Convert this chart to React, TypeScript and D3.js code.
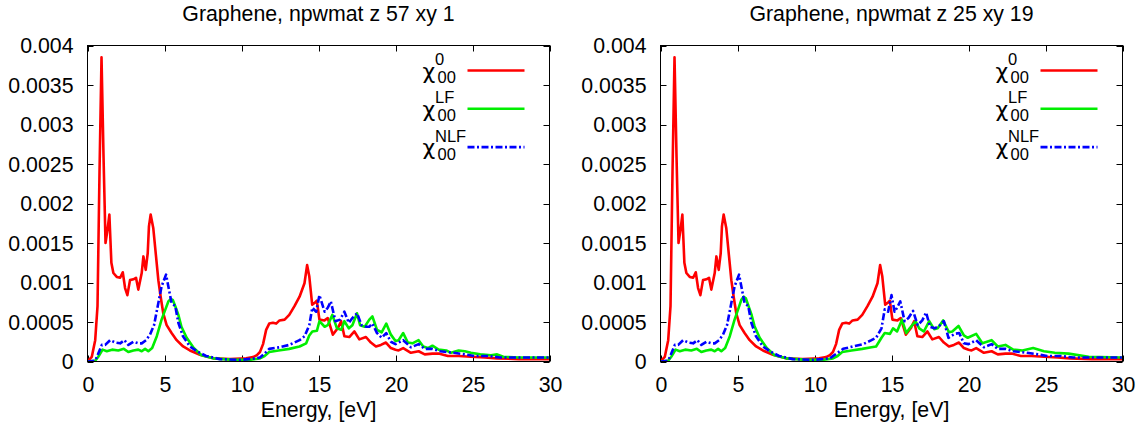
import React from "react";
import * as d3 from "d3";

// ---- data ----
const xTicks = [0, 5, 10, 15, 20, 25, 30];
const yTicks = [0, 0.0005, 0.001, 0.0015, 0.002, 0.0025, 0.003, 0.0035, 0.004];
const yTickLabels = ["0", "0.0005", "0.001", "0.0015", "0.002", "0.0025", "0.003", "0.0035", "0.004"];
const titles = ["Graphene, npwmat z 57 xy 1", "Graphene, npwmat z 25 xy 19"];
const xLabel = "Energy, [eV]";
const legendSup = ["0", "LF", "NLF"];
const legendSub = "00";

type P = [number, number];

const chi0: P[] = [
  [0, 0], [0.28, 0.00006], [0.5, 0.00027], [0.65, 0.0007], [0.78, 0.0024], [0.91, 0.00385],
  [1.04, 0.0026], [1.17, 0.0015], [1.3, 0.00167], [1.42, 0.00186], [1.55, 0.00125], [1.68, 0.00112],
  [1.9, 0.00107], [2.12, 0.00106], [2.29, 0.00113], [2.44, 0.00093], [2.59, 0.00084], [2.76, 0.00103],
  [2.98, 0.00104], [3.15, 0.00106], [3.3, 0.00091], [3.52, 0.00112], [3.63, 0.00133], [3.78, 0.00116],
  [3.91, 0.00137], [3.99, 0.00171], [4.1, 0.00186], [4.27, 0.00169], [4.45, 0.00133], [4.6, 0.00103],
  [4.75, 0.00082], [4.92, 0.00061], [5.14, 0.00046], [5.46, 0.00036], [5.79, 0.00027], [6.21, 0.00019],
  [6.65, 0.00014], [7.3, 0.000085], [8.16, 0.00004], [9.24, 0.00003], [10.3, 0.00004], [10.75, 0.000055],
  [11.0, 0.00008], [11.2, 0.00012], [11.4, 0.00022], [11.6, 0.0004], [11.8, 0.00048], [12.04, 0.00049],
  [12.25, 0.00048], [12.47, 0.00052], [12.8, 0.00053], [13.1, 0.00059], [13.44, 0.0007], [13.77, 0.00082],
  [14.09, 0.00099], [14.26, 0.00122], [14.4, 0.00108], [14.59, 0.00072], [14.74, 0.00074], [14.89, 0.00077],
  [15.06, 0.00053], [15.39, 0.00052], [15.6, 0.00055], [15.93, 0.00034], [16.25, 0.00042], [16.47, 0.00051],
  [16.68, 0.00032], [17.0, 0.00031], [17.33, 0.00038], [17.65, 0.00028], [18.08, 0.00031], [18.4, 0.00024],
  [18.73, 0.00019], [19.05, 0.00021], [19.38, 0.00024], [19.7, 0.00017], [20.0, 0.00015], [20.2, 0.00014],
  [20.5, 0.00017], [21.0, 0.00011], [21.5, 0.00013], [21.9, 0.00009], [22.4, 0.0001], [22.8, 0.0001],
  [23.4, 0.00007], [24.1, 0.00007], [24.9, 0.00006], [25.8, 0.00005], [26.6, 0.00004], [28, 0.00003], [30, 0.00003],
];

const chiLF_a: P[] = [
  [0, 0], [0.5, 0.00001], [0.7, 0.00006], [0.98, 0.00015], [1.25, 0.00013], [1.6, 0.00015], [2.0, 0.00014],
  [2.36, 0.00016], [2.65, 0.00012], [2.98, 0.00014], [3.3, 0.00015], [3.52, 0.00013], [3.74, 0.00016],
  [3.95, 0.00013], [4.2, 0.00017], [4.5, 0.00032], [4.81, 0.00053], [5.04, 0.00065], [5.25, 0.00076],
  [5.4, 0.00079], [5.54, 0.00078], [5.7, 0.0007], [5.9, 0.00059], [6.1, 0.00044], [6.44, 0.0003],
  [6.9, 0.00017], [7.4, 0.00008], [8.16, 0.00004], [9.5, 0.00002], [10.5, 0.00002], [11.2, 0.00004],
  [11.5, 0.00007], [11.8, 0.00012], [12.4, 0.00014], [13.1, 0.00016], [13.77, 0.00019], [14.2, 0.00023],
  [14.4, 0.00033], [14.6, 0.00038], [14.9, 0.00039], [15.06, 0.00051], [15.4, 0.00044], [15.6, 0.00046],
  [15.9, 0.00059], [16.2, 0.00042], [16.47, 0.0004], [16.68, 0.00051], [16.97, 0.00042], [17.2, 0.00046],
  [17.5, 0.00061], [17.7, 0.00046], [18.0, 0.00044], [18.3, 0.00053], [18.5, 0.00057], [18.8, 0.0004],
  [19.1, 0.00037], [19.4, 0.00048], [19.7, 0.00034], [20.0, 0.00026], [20.2, 0.00027], [20.5, 0.00036],
  [20.8, 0.00024], [21.1, 0.00023], [21.5, 0.00027], [21.8, 0.00019], [22.1, 0.00017], [22.4, 0.0002],
  [22.8, 0.00015], [23.3, 0.00014], [23.6, 0.00011], [24.1, 0.00014], [24.5, 0.00013], [24.9, 0.00011],
  [25.5, 0.00009], [26.2, 0.00008], [26.6, 0.00009], [27.0, 0.00006], [28.1, 0.00005], [30, 0.00005],
];

const chiNLF_a: P[] = [
  [0, 0], [0.5, 0.00001], [0.7, 0.0001], [0.93, 0.00021], [1.15, 0.00021], [1.47, 0.00027], [1.8, 0.00024],
  [2.12, 0.00023], [2.4, 0.00027], [2.65, 0.00021], [2.98, 0.00025], [3.3, 0.00023], [3.52, 0.00023],
  [3.8, 0.00027], [4.06, 0.00034], [4.32, 0.00046], [4.6, 0.00074], [4.81, 0.00095], [5.1, 0.0011],
  [5.25, 0.00095], [5.46, 0.00074], [5.7, 0.0007], [5.9, 0.00049], [6.2, 0.00032], [6.65, 0.00019],
  [7.1, 0.00013], [7.7, 0.00007], [8.6, 0.00003], [9.9, 0.00002], [10.96, 0.00004], [11.2, 0.00005],
  [11.5, 0.0001], [11.8, 0.00016], [12.47, 0.00018], [13.1, 0.00021], [13.77, 0.00027], [14.1, 0.00032],
  [14.4, 0.00046], [14.6, 0.00068], [14.85, 0.00063], [15.06, 0.00084], [15.4, 0.00063], [15.6, 0.00068],
  [15.8, 0.00076], [16.1, 0.00051], [16.4, 0.00053], [16.68, 0.00063], [16.97, 0.00049], [17.2, 0.00055],
  [17.5, 0.00061], [17.8, 0.00046], [18.1, 0.00044], [18.3, 0.00044], [18.5, 0.00048], [18.8, 0.00036],
  [19.1, 0.0003], [19.4, 0.00036], [19.7, 0.00025], [20.0, 0.00022], [20.5, 0.00027], [21.0, 0.00018],
  [21.5, 0.00022], [21.9, 0.00016], [22.4, 0.00016], [22.9, 0.00013], [23.8, 0.00011], [24.5, 0.00009],
  [25.1, 0.00007], [26.0, 0.00007], [26.8, 0.00005], [30, 0.00005],
];

const chiLF_b: P[] = [
  [0, 0], [0.5, 0.00001], [0.7, 0.00006], [0.98, 0.00015], [1.25, 0.00013], [1.6, 0.00015], [2.0, 0.00014],
  [2.36, 0.00016], [2.65, 0.00012], [2.98, 0.00014], [3.3, 0.00015], [3.52, 0.00013], [3.74, 0.00016],
  [3.95, 0.00013], [4.2, 0.00017], [4.5, 0.00032], [4.81, 0.00053], [5.04, 0.00066], [5.25, 0.00078],
  [5.4, 0.00082], [5.54, 0.0008], [5.7, 0.00071], [5.9, 0.0006], [6.1, 0.00045], [6.44, 0.0003],
  [6.9, 0.00017], [7.4, 0.00008], [8.16, 0.00004], [9.5, 0.00002], [10.5, 0.00002], [11.2, 0.00004],
  [11.5, 0.00007], [11.8, 0.00012], [12.4, 0.00014], [13.1, 0.00016], [13.7, 0.00018], [14.0, 0.00019],
  [14.35, 0.0003], [14.56, 0.00036], [14.9, 0.00035], [15.1, 0.00042], [15.36, 0.00038], [15.68, 0.00053],
  [15.96, 0.00036], [16.18, 0.00042], [16.56, 0.00051], [16.8, 0.00042], [17.1, 0.00038], [17.45, 0.00051],
  [17.77, 0.00041], [18.0, 0.00042], [18.35, 0.00052], [18.73, 0.00037], [18.95, 0.00038], [19.35, 0.00045],
  [19.7, 0.00033], [19.95, 0.0003], [20.5, 0.00035], [20.9, 0.00023], [21.5, 0.00027], [21.9, 0.00019],
  [22.4, 0.00021], [22.9, 0.00015], [23.5, 0.00014], [24.2, 0.00017], [24.9, 0.00013], [25.6, 0.00011],
  [26.5, 0.0001], [27.8, 0.00006], [30, 0.00005],
];

const chiNLF_b: P[] = [
  [0, 0], [0.5, 0.00001], [0.7, 0.0001], [0.93, 0.00021], [1.15, 0.00021], [1.47, 0.00027], [1.8, 0.00024],
  [2.12, 0.00023], [2.4, 0.00027], [2.65, 0.00021], [2.98, 0.00025], [3.3, 0.00023], [3.52, 0.00023],
  [3.8, 0.00027], [4.06, 0.00034], [4.32, 0.00046], [4.6, 0.00074], [4.81, 0.00095], [5.1, 0.0011],
  [5.25, 0.00095], [5.46, 0.00074], [5.7, 0.0007], [5.9, 0.00049], [6.2, 0.00032], [6.65, 0.00019],
  [7.1, 0.00013], [7.7, 0.00007], [8.6, 0.00003], [9.9, 0.00002], [11.0, 0.00004], [11.43, 0.0001],
  [11.86, 0.00016], [12.5, 0.00019], [13.16, 0.00022], [13.7, 0.00027], [14.0, 0.0003], [14.35, 0.00042],
  [14.56, 0.00066], [14.78, 0.00063], [15.0, 0.00084], [15.2, 0.00063], [15.36, 0.00068], [15.57, 0.00076],
  [15.85, 0.00051], [16.1, 0.00055], [16.4, 0.00064], [16.7, 0.00046], [17.0, 0.00052], [17.25, 0.00062],
  [17.5, 0.00044], [17.8, 0.00042], [18.1, 0.00045], [18.4, 0.00051], [18.7, 0.0003], [19.1, 0.00035],
  [19.4, 0.00036], [19.7, 0.00023], [20.0, 0.00022], [20.5, 0.00027], [21.0, 0.00018], [21.5, 0.00022],
  [21.9, 0.00016], [22.4, 0.00016], [22.9, 0.00013], [23.8, 0.00011], [24.5, 0.00009], [25.1, 0.00007],
  [26.0, 0.00007], [26.8, 0.00005], [30, 0.00005],
];

const panelSeries = [
  [chi0, chiLF_a, chiNLF_a],
  [chi0, chiLF_b, chiNLF_b],
];

// ---- styles ----
const colors = ["#ff0000", "#00ee00", "#0000ff"];
const dashes = [undefined, undefined, "7,2.5,2,2.5"];
const FONT = "'Liberation Sans', Arial, Helvetica, sans-serif";
const FS = 21.3;
const panelLeft = [87.5, 660.5];
const plotW = 462;
const top = 45.5;
const bottom = 361.5;

function Panel({ idx }: { idx: number }) {
  const x0 = panelLeft[idx];
  const x = d3.scaleLinear().domain([0, 30]).range([x0, x0 + plotW]);
  const y = d3.scaleLinear().domain([0, 0.004]).range([bottom, top]);
  const line = d3
    .line<P>()
    .x((d) => x(d[0]))
    .y((d) => y(d[1]));
  const right = x0 + plotW;
  const tl = 6;
  return (
    <g>
      <defs>
        <clipPath id={`clip${idx}`}>
          <rect x={x0} y={top} width={plotW} height={bottom - top} />
        </clipPath>
      </defs>
      <text x={(x0 + right) / 2} y={21} textAnchor="middle" fontSize={FS} fontFamily={FONT} fill="#000">
        {titles[idx]}
      </text>
      {yTicks.map((t, i) => (
        <g key={"y" + i}>
          <line x1={x0} x2={x0 + tl} y1={Math.round(y(t)) + 0.5} y2={Math.round(y(t)) + 0.5} stroke="#000" />
          <line x1={right - tl} x2={right} y1={Math.round(y(t)) + 0.5} y2={Math.round(y(t)) + 0.5} stroke="#000" />
          <text x={x0 - 14} y={y(t)} dy="0.36em" textAnchor="end" fontSize={FS} fontFamily={FONT} fill="#000">
            {yTickLabels[i]}
          </text>
        </g>
      ))}
      {xTicks.map((t, i) => (
        <g key={"x" + i}>
          <line x1={Math.round(x(t)) + 0.5} x2={Math.round(x(t)) + 0.5} y1={bottom} y2={bottom - tl} stroke="#000" />
          <line x1={Math.round(x(t)) + 0.5} x2={Math.round(x(t)) + 0.5} y1={top} y2={top + tl} stroke="#000" />
          <text x={x(t) + 1} y={391.5} textAnchor="middle" fontSize={FS} fontFamily={FONT} fill="#000">
            {t}
          </text>
        </g>
      ))}
      <text x={(x0 + right) / 2} y={417} textAnchor="middle" fontSize={FS} fontFamily={FONT} fill="#000">
        {xLabel}
      </text>
      <g clipPath={`url(#clip${idx})`}>
        {panelSeries[idx].map((s, k) => (
          <path
            key={k}
            d={line(s) || ""}
            fill="none"
            stroke={colors[k]}
            strokeWidth={2.6}
            strokeDasharray={dashes[k]}
            strokeLinejoin="round"
          />
        ))}
      </g>
      {legendSup.map((sup, k) => {
        const ry = top + 25 + k * 38.3;
        return (
          <g key={"lg" + k}>
            <line x1={right - 82} x2={right - 25} y1={ry} y2={ry} stroke={colors[k]} strokeWidth={2.6} strokeDasharray={dashes[k]} />
            <text x={right - 127} y={ry + 8} fontSize={22} fontFamily="'DejaVu Sans', sans-serif" fill="#000">
              χ
            </text>
            <text x={right - 114.5} y={ry - 5.5} fontSize={16.5} fontFamily={FONT} fill="#000">
              {sup}
            </text>
            <text x={right - 112} y={ry + 12.5} fontSize={16.5} fontFamily={FONT} fill="#000">
              {legendSub}
            </text>
          </g>
        );
      })}
      <rect x={x0} y={top} width={plotW} height={bottom - top} fill="none" stroke="#000" strokeWidth={1} />
    </g>
  );
}

export default function App() {
  return (
    <svg
      width={1144}
      height={434}
      style={{ position: "absolute", left: 0, top: 0, background: "#fff" }}
    >
      <rect width={1144} height={434} fill="#fff" />
      <Panel idx={0} />
      <Panel idx={1} />
    </svg>
  );
}
